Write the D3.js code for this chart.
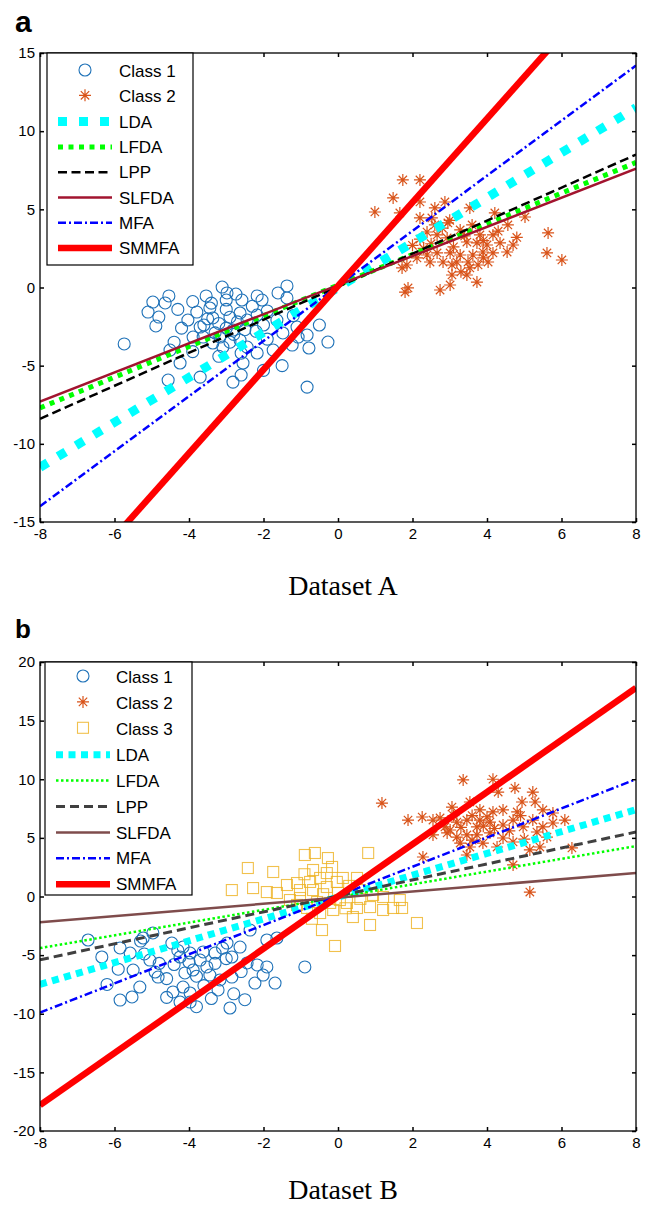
<!DOCTYPE html>
<html>
<head>
<meta charset="utf-8">
<script src="https://cdn.jsdelivr.net/npm/d3@7"></script>
<style>
  body { margin: 0; background: #fff; }
  svg { display: block; }
  .tick text { font-family: "Liberation Sans", Arial, sans-serif; font-size: 15px; fill: #000; }
  .legend text { font-family: "Liberation Sans", Arial, sans-serif; font-size: 17px; fill: #000; }
</style>
</head>
<body>
<div id="chart"></div>
<script>
// ---- panel a (Dataset A) ----
const classA1 = [[-4.97,-0.93],[-5.10,-1.57],[-4.81,-1.89],[-4.89,-2.46],[-4.64,-0.99],[-4.54,-0.54],[-5.74,-3.61],[-3.54,-0.54],[-3.11,0.03],[-2.98,-0.35],[-2.74,-0.42],[-2.58,-0.8],[-2.17,-0.54],[-2.04,-0.8],[-1.61,-0.35],[-1.37,0.1],[-1.37,-0.67],[-4.03,-2.08],[-3.79,-1.57],[-3.44,-1.31],[-3.36,-1.95],[-3.70,-2.53],[-3.89,-3.17],[-3.62,-3.17],[-3.17,-3.17],[-2.82,-2.72],[-2.63,-1.63],[-2.44,-2.08],[-2.17,-1.76],[-3.09,-3.81],[-3.36,-3.55],[-2.63,-3.36],[-2.44,-3.81],[-4.51,-4.0],[-4.24,-4.83],[-4.56,-5.92],[-3.70,-5.73],[-2.82,-6.05],[-2.55,-4.83],[-2.17,-4.19],[-1.74,-4.0],[-1.48,-2.91],[-1.23,-3.68],[-1.07,-3.17],[-0.83,-3.04],[-0.78,-3.87],[-0.27,-3.49],[-0.83,-6.37],[-1.10,-2.53],[-1.64,-2.08],
  [-3.5,-2.0],[-3.2,-2.3],[-3.0,-2.6],[-2.9,-1.9],[-3.3,-2.9],[-2.7,-2.2],[-2.8,-3.0],[-3.6,-2.4],[-3.0,-1.4],[-2.5,-2.7],[-2.2,-2.8],[-2.9,-3.5],[-3.4,-1.0],[-2.3,-1.2],[-2.0,-2.4],[-1.9,-3.3],[-2.6,-4.2],[-3.2,-4.4],[-1.9,-1.5],[-1.2,-1.8],[-0.5,-2.4],[-4.2,-2.6],[-4.4,-3.5],[-3.9,-4.1],[-1.5,-5.0],[-2.0,-5.3],[-2.6,-5.6],[-3.0,-0.8],[-4.3,-1.4],[-3.9,-0.9]];
const classA2 = [[1.74,6.88],[2.20,6.88],[1.48,5.73],[0.99,4.83],[2.20,5.47],[2.60,5.09],[2.87,5.47],[1.66,4.77],[2.20,4.45],[2.52,4.45],[2.95,4.13],[2.39,3.55],[2.66,3.36],[2.93,3.17],[3.28,3.68],[3.54,5.09],[4.21,4.77],[4.56,4.0],[5.02,4.51],[3.81,3.36],[4.16,3.36],[3.46,2.91],[3.73,2.85],[4.0,2.72],[4.35,2.85],[4.70,2.72],[4.54,2.27],[4.16,2.21],[3.89,2.27],[3.62,2.08],[3.28,2.08],[3.01,2.21],[2.66,2.21],[2.39,2.08],[2.12,1.89],[1.85,1.44],[2.47,1.63],[2.82,1.63],[3.19,1.63],[3.49,1.63],[3.76,1.44],[4.03,1.63],[3.54,1.25],[3.06,1.44],[1.72,1.25],[5.64,3.49],[5.61,2.21],[6.01,1.76],[3.06,0.8],[3.46,0.8],[3.73,0.35],[3.01,0.16],[1.88,-0.03],[1.80,-0.29],[2.74,-0.16],
  [2.5,2.8],[2.8,3.8],[3.1,2.6],[3.4,3.3],[3.9,3.0],[2.3,2.5],[3.0,4.3],[3.6,4.0],[4.3,3.6],[2.6,4.0],[3.3,1.0],[2.2,3.1],[4.8,3.2],[3.9,1.9],[2.0,2.7]];
// projection lines: y at x = -8 and at x = 8
const methodsA = ["LDA", "LFDA", "LPP", "SLFDA", "MFA", "SMMFA"];
const endsA = [[-11.5, 11.5], [-7.7, 8.0], [-8.4, 8.5], [-7.3, 7.6], [-14.0, 14.2], [-21.3, 21.5]];
const yTicksA = [-15, -10, -5, 0, 5, 10, 15];

// ---- panel b (Dataset B) ----
const classB1 = [[-4.97,-3.11],[-5.23,-3.54],[-5.85,-4.39],[-6.34,-5.16],[-5.58,-4.82],[-5.50,-6.27],[-5.05,-5.42],[-4.91,-6.44],[-4.83,-6.87],[-4.46,-3.97],[-4.16,-4.31],[-4.24,-5.16],[-3.97,-4.82],[-3.70,-5.42],[-3.89,-6.27],[-4.11,-6.52],[-3.52,-6.01],[-3.30,-4.82],[-2.98,-3.97],[-2.63,-4.31],[-2.85,-5.16],[-3.44,-6.70],[-3.17,-7.12],[-2.85,-6.87],[-2.44,-5.67],[-2.17,-5.84],[-1.91,-6.01],[-2.01,-6.70],[-1.69,-7.38],[-2.23,-7.38],[-2.36,-2.86],[-1.91,-3.71],[-1.64,-3.54],[-0.89,-6.01],[-4.16,-7.72],[-4.43,-8.14],[-3.97,-8.23],[-4.24,-9.0],[-3.22,-7.97],[-5.32,-7.72],[-5.53,-8.57],[-5.85,-8.83],[-2.90,-9.51],[-3.97,-9.0],[-3.62,-4.73],[-6.71,-3.71],
  [-4.4,-5.8],[-4.0,-5.6],[-3.8,-6.8],[-3.3,-5.7],[-3.6,-7.6],[-4.6,-7.0],[-4.8,-5.7],[-5.2,-4.9],[-2.6,-6.4],[-3.0,-5.3],[-2.8,-8.3],[-3.4,-8.7],[-4.6,-8.6],[-5.9,-6.2],[-6.2,-7.5],[-4.3,-4.6],[-3.1,-4.4],[-3.8,-9.4],[-2.5,-8.8],[-5.3,-3.8]];
const classB2 = [[1.18,7.97],[1.88,6.52],[2.26,6.78],[2.55,6.52],[2.28,3.37],[3.36,9.94],[4.30,8.91],[4.75,9.25],[5.23,8.91],[4.94,8.06],[5.29,8.06],[5.50,7.38],[5.77,7.12],[5.77,6.27],[6.09,6.52],[5.50,5.93],[5.23,6.52],[4.81,7.21],[4.43,7.38],[4.16,7.21],[3.81,7.38],[3.54,8.06],[3.06,7.63],[2.74,6.70],[2.87,5.93],[3.19,6.35],[3.46,6.52],[3.81,6.52],[4.08,6.35],[4.43,6.10],[4.70,6.52],[4.97,5.93],[5.34,5.50],[5.61,5.07],[5.42,4.22],[5.15,3.97],[4.70,4.65],[4.43,4.99],[4.08,5.42],[3.73,5.25],[3.46,5.25],[3.19,5.07],[2.93,5.42],[2.55,5.25],[3.28,4.56],[3.54,4.22],[3.89,4.56],[4.27,4.22],[3.46,3.54],[4.70,2.69],[6.28,4.14],[5.15,0.38],[3.01,5.67],[3.73,5.93],[4.16,10.0],
  [3.6,6.9],[4.0,6.8],[3.3,5.9],[4.2,5.8],[4.6,5.6],[3.9,6.0],[3.1,6.9],[4.9,6.9],[5.0,4.9],[3.6,4.8]];
const classB3 = [[-2.85,0.55],[-2.28,0.72],[-1.91,0.38],[-2.42,2.43],[-1.74,2.09],[-0.89,3.54],[-0.62,3.71],[-0.27,3.28],[-0.16,2.52],[-0.67,2.26],[-0.48,1.58],[-0.75,1.24],[-1.10,1.15],[-1.37,0.98],[-1.64,0.30],[-1.02,0.55],[-0.67,0.55],[-0.30,0.81],[-0.03,1.24],[0.13,1.58],[0.51,1.58],[0.81,3.71],[0.59,0.55],[0.94,0.13],[1.21,-0.04],[1.66,-0.30],[1.72,-0.98],[1.48,-0.98],[1.21,-1.15],[0.86,-0.90],[0.51,-0.98],[0.40,-1.75],[0.86,-2.43],[2.12,-2.26],[-0.13,-1.15],[-0.48,-1.41],[-0.83,-0.98],[-1.10,-0.72],[-0.43,-2.86],[-0.08,-4.22],[-1.29,-0.30],[0.05,-0.30],[0.24,-0.55],[-0.21,-0.55],[-0.56,-0.47],[-1.02,-0.13],
  [-0.4,0.2],[0.3,0.9],[0.0,0.3],[-0.9,1.9],[-0.3,2.0],[0.6,-0.2],[0.2,-1.0],[-0.7,-1.9]];
const methodsB = ["LDA", "LFDA", "LPP", "SLFDA", "MFA", "SMMFA"];
const endsB = [[-7.5, 7.4], [-4.4, 4.3], [-5.4, 5.5], [-2.2, 2.0], [-9.9, 10.0], [-17.8, 17.8]];
const yTicksB = [-20, -15, -10, -5, 0, 5, 10, 15, 20];

const xTicks = [-8, -6, -4, -2, 0, 2, 4, 6, 8];

// line looks, per panel
const stylesA = {
  LDA:   { color: "#00ffff", width: 9,   dash: "9,12" },
  LFDA:  { color: "#00ff00", width: 5,   dash: "5,5.5" },
  LPP:   { color: "#000000", width: 2.5, dash: "9,4.5" },
  SLFDA: { color: "#a2142f", width: 2.5, dash: null },
  MFA:   { color: "#0000ff", width: 2.5, dash: "8,3,2,3" },
  SMMFA: { color: "#ff0000", width: 6.5, dash: null }
};
const stylesB = {
  LDA:   { color: "#00ffff", width: 7,   dash: "7,5.5" },
  LFDA:  { color: "#00ff00", width: 2.5, dash: "2.5,2.5" },
  LPP:   { color: "#404040", width: 3,   dash: "9,5" },
  SLFDA: { color: "#7f4c4c", width: 2.5, dash: null },
  MFA:   { color: "#0000ff", width: 2.5, dash: "8,3,2,3" },
  SMMFA: { color: "#ff0000", width: 6.5, dash: null }
};

const c1 = "#1f72b8", c2 = "#d95319", c3 = "#edb120";
const starPath = "M-6,0H6M0,-6V6M-4.2,-4.2L4.2,4.2M-4.2,4.2L4.2,-4.2";
const plainNum = function (d) { return String(d); };

const svg = d3.select("#chart").append("svg")
  .attr("width", 646)
  .attr("height", 1205);

function drawMarker(g, kind, x, y) {
  if (kind === "circle") {
    g.append("circle").attr("cx", x).attr("cy", y).attr("r", 6)
      .attr("fill", "none").attr("stroke", c1).attr("stroke-width", 1.1);
  } else if (kind === "star") {
    g.append("path").attr("d", starPath).attr("transform", "translate(" + x + "," + y + ")")
      .attr("fill", "none").attr("stroke", c2).attr("stroke-width", 1.2);
  } else {
    g.append("rect").attr("x", x - 5.5).attr("y", y - 5.5).attr("width", 11).attr("height", 11)
      .attr("fill", "none").attr("stroke", c3).attr("stroke-width", 1.1).attr("stroke-opacity", 0.8);
  }
}

function drawPanel(p) {
  const left = 40, right = 636;
  const x = d3.scaleLinear().domain([-8, 8]).range([left, right]);
  const y = d3.scaleLinear().domain(p.yDomain).range([p.bottom, p.top]);
  const g = svg.append("g");

  g.append("clipPath").attr("id", "clip-" + p.id)
    .append("rect").attr("x", left).attr("y", p.top)
    .attr("width", right - left).attr("height", p.bottom - p.top);

  const plot = g.append("g").attr("clip-path", "url(#clip-" + p.id + ")");

  // scatter
  p.classes.forEach(function (c) {
    c.data.forEach(function (d) { drawMarker(plot, c.kind, x(d[0]), y(d[1])); });
  });

  // projection lines
  const line = d3.line().x(function (d) { return x(d[0]); }).y(function (d) { return y(d[1]); });
  p.methods.forEach(function (m, i) {
    const s = p.styles[m];
    plot.append("path")
      .datum([[-8, p.ends[i][0]], [8, p.ends[i][1]]])
      .attr("fill", "none")
      .attr("stroke", s.color)
      .attr("stroke-width", s.width)
      .attr("stroke-dasharray", s.dash)
      .attr("d", line);
  });

  // axes, MATLAB style: inward ticks on all four sides
  g.append("g").attr("transform", "translate(0," + p.bottom + ")")
    .call(d3.axisBottom(x).tickValues(xTicks).tickSize(-4).tickPadding(6).tickFormat(plainNum))
    .call(function (a) { a.select(".domain").remove(); });
  g.append("g").attr("transform", "translate(0," + p.top + ")")
    .call(d3.axisTop(x).tickValues(xTicks).tickSize(-4).tickFormat(""))
    .call(function (a) { a.select(".domain").remove(); });
  g.append("g").attr("transform", "translate(" + left + ",0)")
    .call(d3.axisLeft(y).tickValues(p.yTicks).tickSize(-4).tickPadding(5).tickFormat(plainNum))
    .call(function (a) { a.select(".domain").remove(); });
  g.append("g").attr("transform", "translate(" + right + ",0)")
    .call(d3.axisRight(y).tickValues(p.yTicks).tickSize(-4).tickFormat(""))
    .call(function (a) { a.select(".domain").remove(); });
  g.selectAll(".tick line").attr("stroke", "#000").attr("stroke-width", 1.5);

  g.append("rect").attr("x", left).attr("y", p.top)
    .attr("width", right - left).attr("height", p.bottom - p.top)
    .attr("fill", "none").attr("stroke", "#000").attr("stroke-width", 1.3);

  // legend
  const lg = g.append("g").attr("class", "legend");
  lg.append("rect").attr("x", p.legend.x0).attr("y", p.top)
    .attr("width", p.legend.x1 - p.legend.x0).attr("height", p.legend.bottom - p.top)
    .attr("fill", "#fff").attr("stroke", "#000").attr("stroke-width", 1.2);
  const entries = p.classes.map(function (c) { return { label: c.label, kind: c.kind }; })
    .concat(p.methods.map(function (m) { return { label: m, line: p.styles[m] }; }));
  entries.forEach(function (e, i) {
    const cy = p.legend.y0 + i * p.legend.step;
    if (e.line) {
      lg.append("line").attr("x1", p.legend.s0).attr("x2", p.legend.s1)
        .attr("y1", cy).attr("y2", cy)
        .attr("stroke", e.line.color).attr("stroke-width", e.line.width)
        .attr("stroke-dasharray", e.line.dash);
    } else {
      drawMarker(lg, e.kind, (p.legend.s0 + p.legend.s1) / 2, cy - 1);
    }
    lg.append("text").attr("x", p.legend.tx).attr("y", cy).attr("dy", "0.36em").text(e.label);
  });

  // panel letter and caption
  svg.append("text").attr("x", 15).attr("y", p.letterY)
    .style("font-family", "Liberation Sans, Arial, sans-serif").style("font-weight", "bold")
    .style("font-size", p.letterSize + "px").text(p.letter);
  svg.append("text").attr("x", 343).attr("y", p.captionY).attr("text-anchor", "middle")
    .style("font-family", "Liberation Serif, Times New Roman, serif")
    .style("font-size", "28px").text(p.caption);
}

drawPanel({
  id: "a", letter: "a", letterY: 32, letterSize: 30, caption: "Dataset A", captionY: 595,
  top: 53, bottom: 522, yDomain: [-15, 15], yTicks: yTicksA,
  classes: [{ label: "Class 1", kind: "circle", data: classA1 },
            { label: "Class 2", kind: "star", data: classA2 }],
  methods: methodsA, ends: endsA, styles: stylesA,
  legend: { x0: 47, x1: 193, bottom: 265, y0: 71, step: 25.3, s0: 58, s1: 112, tx: 119 }
});

drawPanel({
  id: "b", letter: "b", letterY: 638, letterSize: 26, caption: "Dataset B", captionY: 1199,
  top: 662, bottom: 1131, yDomain: [-20, 20], yTicks: yTicksB,
  classes: [{ label: "Class 1", kind: "circle", data: classB1 },
            { label: "Class 2", kind: "star", data: classB2 },
            { label: "Class 3", kind: "square", data: classB3 }],
  methods: methodsB, ends: endsB, styles: stylesB,
  legend: { x0: 45, x1: 192, bottom: 895, y0: 677, step: 25.9, s0: 56, s1: 110, tx: 116 }
});
</script>
</body>
</html>
